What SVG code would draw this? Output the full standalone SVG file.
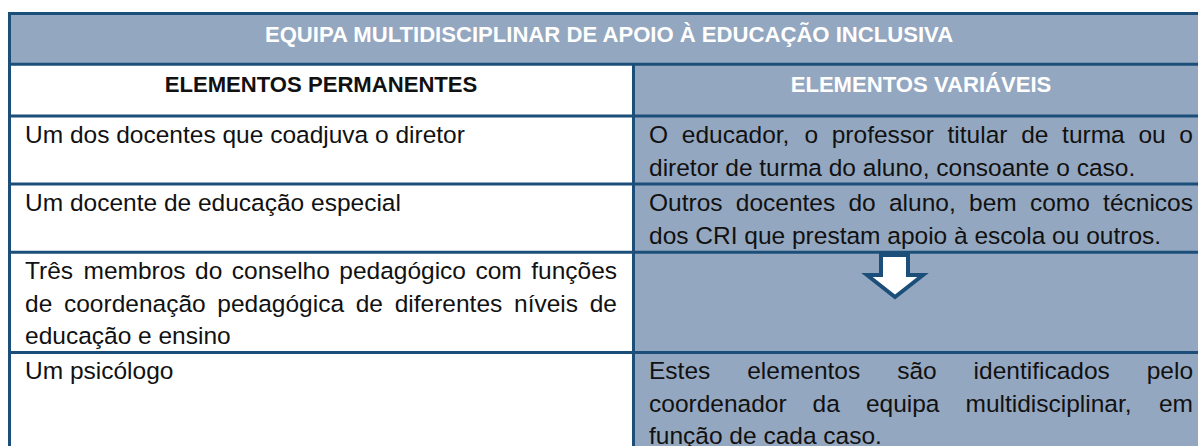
<svg xmlns="http://www.w3.org/2000/svg" width="1198" height="446" viewBox="0 0 1198 446">
<style>
.t{font-family:"Liberation Sans",Arial,sans-serif;font-size:24.5px;fill:#111}
.h{font-family:"Liberation Sans",Arial,sans-serif;font-size:22.1px;font-weight:bold}
.w{fill:#ffffff}
.k{fill:#111}
.ln{stroke:#1B4F7A;stroke-width:3;fill:none}
.fill{fill:#94A7C0}
</style>
<rect x="0" y="0" width="1198" height="446" fill="#ffffff"/>
<g id="title">
<rect class="fill" x="9" y="13" width="1200" height="51"/>
<text class="h w" x="609" y="41.5" text-anchor="middle">EQUIPA MULTIDISCIPLINAR DE APOIO À EDUCAÇÃO INCLUSIVA</text>
</g>
<g id="right-column-fill">
<rect class="fill" x="633" y="64" width="580" height="390"/>
</g>
<g id="grid">
<line class="ln" x1="8" y1="13.5" x2="1198" y2="13.5"/>
<line class="ln" x1="8" y1="64.3" x2="1198" y2="64.3"/>
<line class="ln" x1="8" y1="116" x2="1198" y2="116"/>
<line class="ln" x1="8" y1="184" x2="1198" y2="184"/>
<line class="ln" x1="8" y1="252.3" x2="1198" y2="252.3"/>
<line class="ln" x1="8" y1="352.5" x2="1198" y2="352.5"/>
<line class="ln" x1="9.5" y1="12" x2="9.5" y2="446"/>
<line class="ln" x1="633.5" y1="64" x2="633.5" y2="446"/>
</g>
<g id="header-permanentes">
<text class="h k" x="321" y="92" text-anchor="middle">ELEMENTOS PERMANENTES</text>
</g>
<g id="header-variaveis">
<text class="h w" x="921" y="92" text-anchor="middle">ELEMENTOS VARIÁVEIS</text>
</g>
<g id="perm-1">
<text class="t" x="25" y="143">Um dos docentes que coadjuva o diretor</text>
</g>
<g id="var-1">
<text class="t" y="143"><tspan x="649">O</tspan><tspan x="681.76">educador,</tspan><tspan x="804.41">o</tspan><tspan x="831.73">professor</tspan><tspan x="947.55">titular</tspan><tspan x="1021.15">de</tspan><tspan x="1062.09">turma</tspan><tspan x="1138.41">ou</tspan><tspan x="1179.35">o</tspan></text>
<text class="t" x="649" y="175.5">diretor de turma do aluno, consoante o caso.</text>
</g>
<g id="perm-2">
<text class="t" x="25" y="211">Um docente de educação especial</text>
</g>
<g id="var-2">
<text class="t" y="211"><tspan x="649">Outros</tspan><tspan x="735.79">docentes</tspan><tspan x="848.48">do</tspan><tspan x="888.99">aluno,</tspan><tspan x="969">bem</tspan><tspan x="1029.92">como</tspan><tspan x="1103.09">técnicos</tspan></text>
<text class="t" x="649" y="243.5">dos CRI que prestam apoio à escola ou outros.</text>
</g>
<g id="perm-3">
<text class="t" y="279"><tspan x="25">Três</tspan><tspan x="83.48">membros</tspan><tspan x="195.05">do</tspan><tspan x="231.77">conselho</tspan><tspan x="339.3">pedagógico</tspan><tspan x="475.45">com</tspan><tspan x="531.21">funções</tspan></text>
<text class="t" y="311.5"><tspan x="25">de</tspan><tspan x="63.97">coordenação</tspan><tspan x="217.33">pedagógica</tspan><tspan x="355.73">de</tspan><tspan x="394.7">diferentes</tspan><tspan x="514.01">níveis</tspan><tspan x="589.73">de</tspan></text>
<text class="t" x="25" y="344">educação e ensino</text>
</g>
<g id="arrow">
<polygon points="881,255 908,255 908,275 923,275 895,297 867,275 881,275" fill="#ffffff" stroke="#1B4F7A" stroke-width="4" stroke-linejoin="miter"/>
</g>
<g id="perm-4">
<text class="t" x="25" y="379">Um psicólogo</text>
</g>
<g id="var-4">
<text class="t" y="379"><tspan x="649">Estes</tspan><tspan x="747.21">elementos</tspan><tspan x="897.17">são</tspan><tspan x="973.6">identificados</tspan><tspan x="1146.71">pelo</tspan></text>
<text class="t" y="411.5"><tspan x="649">coordenador</tspan><tspan x="812.59">da</tspan><tspan x="865.88">equipa</tspan><tspan x="965.48">multidisciplinar,</tspan><tspan x="1158.96">em</tspan></text>
<text class="t" x="649" y="444">função de cada caso.</text>
</g>
<g id="connectors"></g>
</svg>
